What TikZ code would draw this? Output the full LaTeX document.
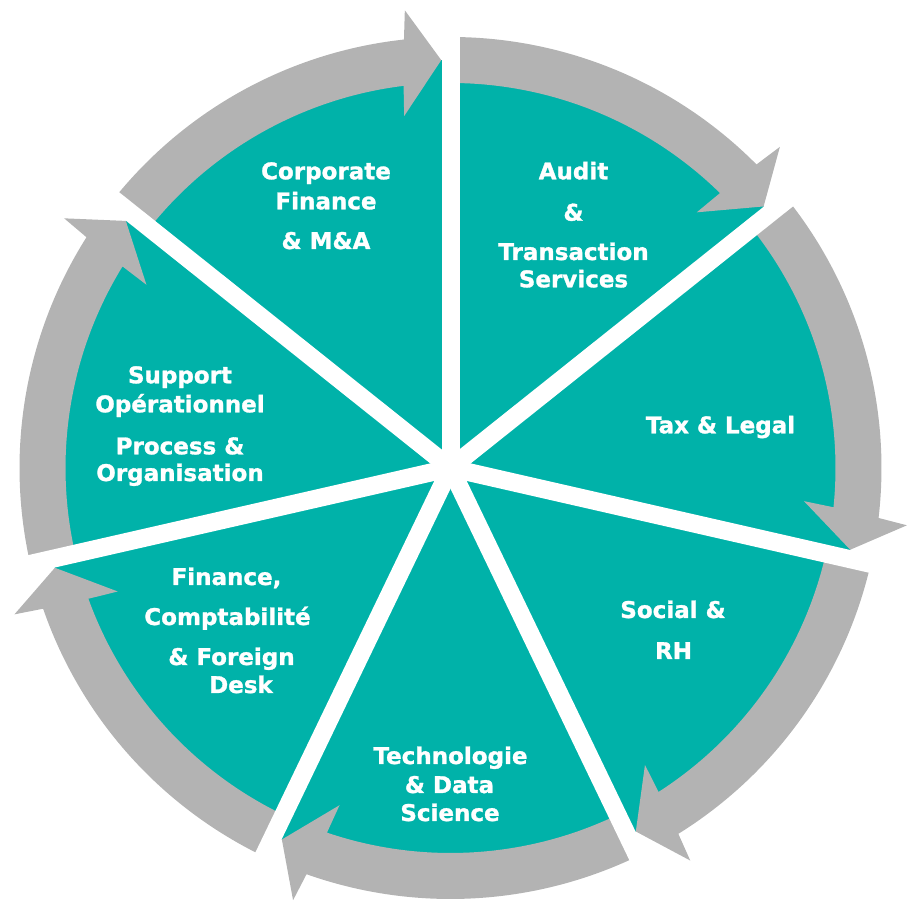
\documentclass[tikz,border=0pt]{standalone}
\usepackage{fontspec}
\setmainfont{DejaVu Sans}[BoldFeatures={FakeBold=1.2}]
\definecolor{segteal}{RGB}{0,178,169}
\definecolor{arrowgray}{RGB}{179,179,179}
\tikzset{
  arrowfill/.style={fill=arrowgray},
  gapline/.style={draw=white, line width=18pt, line cap=round},
  lbl/.style={text=white, font=\fontsize{23}{27}\selectfont\bfseries, anchor=base, inner sep=0pt}
}
\begin{document}
\begin{tikzpicture}[x=1pt,y=1pt]
\useasboundingbox (0,0) rectangle (907,907);
\coordinate (C) at (450.5,439);
\begin{scope}[shift={(C)}]
  % teal disk
  \fill[segteal] (0,0) circle[radius=408pt];
  % gray circular arrows (clockwise)
  \foreach \s in {141.4286, 90, 38.5714, -12.8571, -64.2857, -115.7143, -167.1429} {
    \pgfmathsetmacro{\e}{\s-51.4286}
    \pgfmathsetmacro{\ao}{\e+6.2}
    \pgfmathsetmacro{\bo}{\e+5.7}
    \pgfmathsetmacro{\tp}{\e+1.3}
    \pgfmathsetmacro{\bi}{\e+7.5}
    \pgfmathsetmacro{\ai}{\e+7.0}
    \fill[arrowfill] (\s:431pt) arc[start angle=\s, end angle=\ao, radius=431pt]
      -- (\bo:460pt) -- (\tp:408pt) -- (\bi:355pt) -- (\ai:385pt)
      arc[start angle=\ai, end angle=\s, radius=385pt] -- cycle;
  }
  % white gaps
  \foreach \g in {90, 38.5714, -12.8571, -64.2857, -115.7143, -167.1429, 141.4286} {
    \draw[gapline] (0,0) -- (\g:490pt);
  }
\end{scope}
% labels
\node[lbl] (cf1) at (326,727.7) {Corporate};
\node[lbl] (cf2) at (326,697.7) {Finance};
\node[lbl] (cf3) at (326,658) {\& M\&A};
\node[lbl] (au1) at (573.5,727.7) {Audit};
\node[lbl] (au2) at (573.5,686.3) {\&};
\node[lbl] (au3) at (573.5,647) {Transaction};
\node[lbl] (au4) at (573.5,619.7) {Services};
\node[lbl] (tx1) at (720.5,473.7) {Tax \& Legal};
\node[lbl] (so1) at (673,289) {Social \&};
\node[lbl] (so2) at (673.5,248) {RH};
\node[lbl] (te1) at (450.5,143) {Technologie};
\node[lbl] (te2) at (449.5,114) {\& Data};
\node[lbl] (te3) at (450,86) {Science};
\node[lbl] (fi1) at (226.5,322) {Finance,};
\node[lbl] (fi2) at (227.5,282) {Comptabilité};
\node[lbl] (fi3) at (231.5,242) {\& Foreign};
\node[lbl] (fi4) at (241,214) {Desk};
\node[lbl] (su1) at (180,523.7) {Support};
\node[lbl] (su2) at (180,494.7) {Opérationnel};
\node[lbl] (su3) at (180,452.7) {Process \&};
\node[lbl] (su4) at (180,426) {Organisation};
\end{tikzpicture}
\end{document}
